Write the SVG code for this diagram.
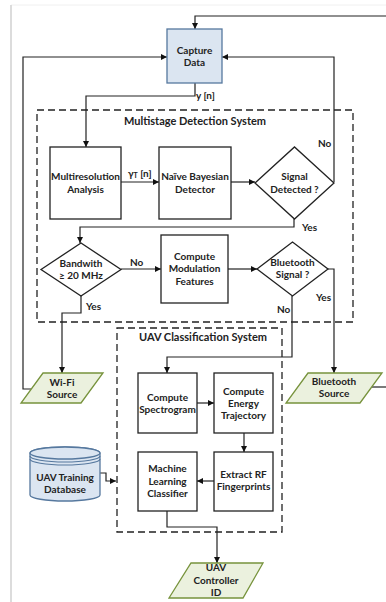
<svg xmlns="http://www.w3.org/2000/svg" width="386" height="602" viewBox="0 0 386 602">
<defs>
<marker id="ah" viewBox="0 0 10 10" refX="10" refY="5" markerWidth="6" markerHeight="6" orient="auto" markerUnits="userSpaceOnUse">
<path d="M0,0 L10,5 L0,10 z" fill="#111"/>
</marker>
<style>
text{font-family:Lato,"Liberation Sans",sans-serif;font-weight:bold;font-size:10px;fill:#222;text-anchor:middle}
.box{fill:#fff;stroke:#222;stroke-width:1.3}
.blue{fill:#dbe5f1;stroke:#56789e;stroke-width:1.3}
.green{fill:#ebf1de;stroke:#77933c;stroke-width:1.3}
.dash{fill:none;stroke:#222;stroke-width:1.3;stroke-dasharray:7 4}
.c{fill:none;stroke:#222;stroke-width:1.2}
.arr{marker-end:url(#ah)}
.title{font-size:11px}
.lbl{text-anchor:start}
</style>
</defs>
<rect width="386" height="602" fill="#fff"/>
<line x1="11" y1="5" x2="386" y2="5" stroke="#f0f0f0" stroke-width="1"/>
<line x1="11" y1="5" x2="11" y2="602" stroke="#dcdcdc" stroke-width="2"/>

<g id="groups">
<rect class="dash" x="37" y="110" width="316" height="212"/>
<text class="title" x="195" y="125">Multistage Detection System</text>
<rect class="dash" x="117" y="328" width="165" height="204"/>
<text class="title" x="203" y="341">UAV Classification System</text>
</g>

<g id="connectors">
<path class="c arr" d="M390,16 H195 V29"/>
<path class="c" d="M368,387 H390"/>
<path class="c arr" d="M31,389 H23 V57 H167"/>
<path class="c arr" d="M334,182 V57 H222"/>
<path class="c arr" d="M195,83 V96 H86 V147"/>
<path class="c arr" d="M121,182 H159"/>
<path class="c arr" d="M231,182 H255"/>
<path class="c arr" d="M294,219 V227 H80 V243"/>
<path class="c arr" d="M121,269 H161"/>
<path class="c arr" d="M228,269 H257"/>
<path class="c arr" d="M328,269 H334 V373"/>
<path class="c arr" d="M292,296 V357 H167 V373"/>
<path class="c arr" d="M81,296 V313 H62 V373"/>
<path class="c arr" d="M197,403 H214"/>
<path class="c arr" d="M244,433 V452"/>
<path class="c arr" d="M214,481 H197"/>
<path class="c arr" d="M100,473 H106 V481 H116"/>
<path class="c arr" d="M167,511 V527 H217 V563"/>
<text class="lbl" x="196" y="99">y [n]</text>
<text class="lbl" x="318" y="147">No</text>
<text class="lbl" x="128" y="177">γ<tspan font-size="7" dy="1">T</tspan><tspan dy="-1"> [n]</tspan></text>
<text class="lbl" x="302" y="231">Yes</text>
<text class="lbl" x="130" y="266">No</text>
<text class="lbl" x="86" y="310">Yes</text>
<text class="lbl" x="277" y="313">No</text>
<text class="lbl" x="316" y="301">Yes</text>
</g>

<g id="capture">
<rect class="blue" x="167" y="29" width="55" height="54"/>
<text x="194.5" y="53.5">Capture</text>
<text x="194.5" y="65.5">Data</text>
</g>
<g id="multires">
<rect class="box" x="50" y="147" width="71" height="72"/>
<text x="85.5" y="180">Multiresolution</text>
<text x="85.5" y="193">Analysis</text>
</g>
<g id="bayes">
<rect class="box" x="159" y="147" width="72" height="72"/>
<text x="195" y="180">Naïve Bayesian</text>
<text x="195" y="193">Detector</text>
</g>
<g id="signal">
<path class="box" d="M255,183 L294.5,147 L334,183 L294.5,219 z"/>
<text x="294.5" y="180">Signal</text>
<text x="294.5" y="193">Detected ?</text>
</g>
<g id="bandwidth">
<path class="box" d="M41,269.5 L81,243 L121,269.5 L81,296 z"/>
<text x="81" y="267">Bandwith</text>
<text x="81" y="279">≥ 20 MHz</text>
</g>
<g id="modulation">
<rect class="box" x="161" y="235" width="67" height="68"/>
<text x="194.5" y="260">Compute</text>
<text x="194.5" y="272">Modulation</text>
<text x="194.5" y="285">Features</text>
</g>
<g id="bluetooth">
<path class="box" d="M257,269 L292.5,242 L328,269 L292.5,296 z"/>
<text x="292.5" y="266">Bluetooth</text>
<text x="292.5" y="278">Signal ?</text>
</g>
<g id="wifi">
<path class="green" d="M43,373 H103 L81,403 H21 z"/>
<text x="62" y="386">Wi-Fi</text>
<text x="62" y="398">Source</text>
</g>
<g id="btsource">
<path class="green" d="M308,373 H382 L360,403 H286 z"/>
<text x="334" y="385">Bluetooth</text>
<text x="334" y="397">Source</text>
</g>
<g id="spectrogram">
<rect class="box" x="138" y="373" width="59" height="60"/>
<text x="167.5" y="401">Compute</text>
<text x="167.5" y="413">Spectrogram</text>
</g>
<g id="energy">
<rect class="box" x="214" y="373" width="59" height="60"/>
<text x="243.5" y="395">Compute</text>
<text x="243.5" y="407">Energy</text>
<text x="243.5" y="419">Trajectory</text>
</g>
<g id="classifier">
<rect class="box" x="138" y="452" width="59" height="59"/>
<text x="167.5" y="472">Machine</text>
<text x="167.5" y="485">Learning</text>
<text x="167.5" y="497">Classifier</text>
</g>
<g id="fingerprints">
<rect class="box" x="214" y="452" width="59" height="59"/>
<text x="243.5" y="478">Extract RF</text>
<text x="243.5" y="490">Fingerprints</text>
</g>
<g id="database">
<path class="blue" d="M30,453 V495 A35,6 0 0 0 100,495 V453 A35,6 0 0 0 30,453 z"/>
<ellipse class="blue" cx="65" cy="453" rx="35" ry="6"/>
<path fill="none" stroke="#56789e" stroke-width="1.2" d="M30,456 A35,6 0 0 0 100,456 M30,459 A35,6 0 0 0 100,459"/>
<text x="65" y="481">UAV Training</text>
<text x="65" y="493">Database</text>
</g>
<g id="controller">
<path class="green" d="M191,563 H263 L243,598 H169 z"/>
<text x="216" y="571">UAV</text>
<text x="216" y="584">Controller</text>
<text x="216" y="596">ID</text>
</g>
</svg>
